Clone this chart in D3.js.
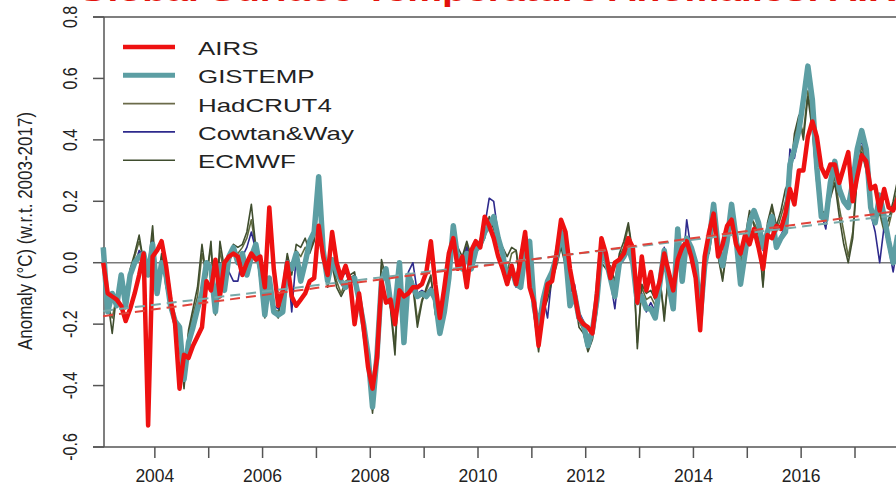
<!DOCTYPE html>
<html>
<head>
<meta charset="utf-8">
<script src="https://cdn.jsdelivr.net/npm/d3@7"></script>
<style>
  body { margin: 0; background: #fff; }
  text { font-family: "Liberation Sans", Arial, sans-serif; }
</style>
</head>
<body>
<div id="chart-area"></div>
<script>
var total_width = 896;
var total_height = 486;

// monthly anomalies, Jan 2003 onwards
var startYear = 2003;
var airs = [0.00,-0.10,-0.11,-0.12,-0.14,-0.19,-0.15,-0.10,-0.04,0.03,-0.53,0.02,
  0.04,0.07,-0.01,-0.12,-0.20,-0.41,-0.30,-0.31,-0.27,-0.24,-0.21,-0.06,
  -0.09,0.01,-0.11,0.00,0.02,0.03,0.02,-0.04,0.00,0.03,0.01,0.02,
  -0.08,0.18,-0.02,-0.14,-0.09,0.00,-0.11,-0.14,-0.12,-0.10,-0.06,-0.05,
  0.12,0.02,-0.04,0.10,0.00,-0.05,-0.01,-0.06,-0.20,-0.10,-0.21,-0.34,
  -0.41,-0.31,-0.06,-0.13,-0.12,-0.20,-0.09,-0.11,-0.10,-0.08,-0.08,-0.07,
  -0.03,0.07,-0.07,-0.18,-0.08,0.03,0.08,-0.02,0.02,-0.08,0.04,0.07,
  0.05,0.15,0.12,0.08,0.02,-0.02,-0.07,-0.01,-0.07,0.01,0.10,-0.08,
  -0.13,-0.27,-0.16,-0.07,-0.06,0.03,0.14,0.10,-0.02,-0.10,-0.18,-0.20,
  -0.21,-0.23,-0.10,0.08,0.03,-0.05,0.00,0.01,0.03,0.08,0.05,-0.13,
  0.02,-0.09,-0.03,-0.11,-0.06,0.03,-0.03,-0.09,0.01,0.05,0.07,0.02,
  -0.05,-0.22,0.02,0.10,0.16,0.02,0.06,0.12,0.14,0.06,0.03,0.09,
  0.06,0.11,0.05,-0.02,0.09,0.08,0.12,0.11,0.16,0.24,0.19,0.30,
  0.30,0.41,0.46,0.41,0.31,0.28,0.32,0.32,0.26,0.31,0.36,0.20,
  0.28,0.35,0.33,0.24,0.25,0.17,0.24,0.18,0.17,0.21];

var gistemp = [0.05,-0.16,-0.10,-0.14,-0.04,-0.14,-0.04,0.00,0.02,0.03,-0.04,0.06,
  -0.10,0.00,-0.04,-0.14,-0.19,-0.21,-0.38,-0.26,-0.21,-0.15,-0.10,0.00,
  -0.02,-0.16,-0.01,-0.09,0.02,0.05,0.00,0.03,-0.04,0.02,0.06,-0.02,
  -0.17,-0.05,-0.16,-0.17,-0.16,0.00,-0.02,0.03,-0.06,0.00,0.07,0.10,
  0.28,0.04,-0.06,0.01,-0.03,-0.06,-0.08,-0.06,-0.05,-0.12,-0.20,-0.30,
  -0.47,-0.30,-0.06,-0.02,-0.13,-0.15,0.00,-0.26,-0.04,-0.08,-0.11,-0.10,
  -0.11,-0.09,-0.12,-0.23,-0.16,-0.05,0.12,0.01,-0.02,0.03,-0.02,0.04,
  0.06,0.10,0.12,0.15,0.08,0.03,-0.06,-0.02,-0.07,-0.08,0.03,0.07,
  -0.14,-0.22,-0.12,-0.06,-0.03,0.02,0.10,0.03,-0.14,-0.10,-0.18,-0.20,
  -0.27,-0.22,-0.12,0.04,0.01,-0.05,-0.11,0.00,0.02,0.05,0.00,-0.13,
  -0.11,-0.15,-0.15,-0.18,-0.07,0.04,-0.07,-0.15,0.11,-0.06,0.08,0.05,
  0.00,-0.18,-0.01,0.07,0.19,0.05,-0.01,0.07,0.19,0.08,-0.07,0.03,
  0.13,0.17,0.13,0.05,0.10,0.15,0.05,0.08,0.10,0.32,0.37,0.43,
  0.53,0.64,0.53,0.31,0.15,0.14,0.26,0.33,0.24,0.20,0.18,0.26,
  0.37,0.43,0.37,0.18,0.13,0.22,0.15,0.07,0.00,0.09];

var hadcrut4 = [0.03,-0.14,-0.18,-0.11,-0.04,-0.12,-0.03,0.02,0.07,0.01,-0.03,0.09,
  -0.08,0.02,-0.06,-0.12,-0.19,-0.20,-0.40,-0.23,-0.17,-0.11,0.03,-0.04,
  0.05,-0.15,0.04,-0.04,0.00,0.04,0.03,0.05,0.08,0.14,0.04,-0.04,
  -0.16,-0.07,-0.15,-0.16,-0.10,0.02,-0.03,0.04,0.02,0.05,0.04,0.08,
  0.27,0.02,-0.07,0.00,-0.06,-0.10,-0.06,-0.05,-0.04,-0.13,-0.21,-0.31,
  -0.48,-0.28,-0.01,-0.04,-0.14,-0.27,-0.02,-0.22,-0.05,-0.06,-0.19,-0.12,
  -0.09,-0.05,-0.15,-0.20,-0.12,-0.03,0.09,0.03,0.01,0.06,0.00,0.05,
  0.06,0.09,0.14,0.13,0.07,0.04,-0.03,0.03,0.04,-0.07,0.05,0.03,
  -0.15,-0.27,-0.14,-0.10,-0.05,0.00,0.07,0.01,-0.08,-0.09,-0.19,-0.22,
  -0.28,-0.24,-0.15,0.02,0.00,-0.03,-0.08,0.02,0.05,0.12,0.02,-0.26,
  -0.08,-0.12,-0.11,-0.14,-0.05,-0.17,-0.04,-0.12,0.06,-0.02,0.07,0.03,
  -0.02,-0.20,0.02,0.04,0.15,0.03,-0.05,0.06,0.15,0.10,0.00,0.06,
  0.15,0.13,0.10,-0.07,0.12,0.18,0.10,0.15,0.20,0.26,0.40,0.47,
  0.42,0.56,0.45,0.27,0.16,0.15,0.22,0.28,0.18,0.10,0.02,0.10,
  0.30,0.38,0.32,0.18,0.14,0.16,0.10,0.12,0.18,0.24];

var cowtan = [0.04,-0.13,-0.12,-0.12,-0.05,-0.13,-0.05,-0.01,0.04,0.02,-0.03,0.07,
  -0.09,0.01,-0.05,-0.13,-0.18,-0.22,-0.36,-0.25,-0.20,-0.14,-0.08,-0.02,
  -0.01,-0.14,0.00,-0.06,-0.03,-0.06,-0.06,0.02,0.05,0.10,0.04,-0.03,
  -0.15,-0.06,-0.14,-0.15,-0.12,0.01,-0.16,0.02,-0.05,0.01,0.05,0.09,
  0.26,0.03,-0.05,0.00,-0.02,-0.05,-0.03,-0.07,-0.04,-0.12,-0.19,-0.29,
  -0.45,-0.29,-0.04,-0.03,-0.12,-0.17,-0.01,-0.24,-0.03,0.00,-0.10,-0.09,
  -0.10,-0.08,-0.11,-0.21,-0.15,-0.04,0.10,0.02,-0.01,0.05,-0.01,0.03,
  0.07,0.12,0.21,0.20,0.09,0.03,-0.05,-0.01,-0.08,-0.06,0.10,0.05,
  -0.13,-0.22,-0.11,-0.18,-0.04,0.01,0.09,0.02,-0.10,-0.07,-0.16,-0.19,
  -0.25,-0.20,-0.14,0.03,0.00,-0.06,-0.15,-0.01,0.01,0.06,0.01,-0.12,
  -0.10,-0.16,-0.13,-0.16,-0.06,0.05,-0.06,-0.13,0.09,-0.04,0.14,0.04,
  0.01,-0.16,0.00,0.06,0.18,0.06,0.00,0.08,0.17,0.09,-0.05,0.04,
  0.12,0.16,0.12,0.04,0.11,0.14,0.06,0.09,0.12,0.37,0.34,0.42,
  0.52,0.60,0.50,0.28,0.16,0.11,0.24,0.30,0.22,0.20,0.20,0.24,
  0.34,0.40,0.34,0.16,0.10,0.00,0.12,0.05,-0.03,0.06];

var ecmwf = [0.05,-0.12,-0.23,-0.10,-0.06,-0.15,-0.02,0.03,0.09,0.00,-0.02,0.12,
  -0.09,0.03,-0.08,-0.13,-0.20,-0.22,-0.41,-0.22,-0.15,-0.08,0.06,-0.05,
  0.07,-0.17,0.07,-0.02,0.01,0.06,0.05,0.06,0.10,0.19,0.05,-0.06,
  -0.18,-0.08,-0.16,-0.18,-0.08,0.03,-0.04,0.06,0.05,0.08,0.03,0.07,
  0.28,0.01,-0.08,-0.01,-0.08,-0.11,-0.08,-0.04,-0.03,-0.14,-0.22,-0.32,
  -0.49,-0.27,0.01,-0.05,-0.15,-0.30,-0.01,-0.20,-0.06,-0.08,-0.21,-0.13,
  -0.08,-0.04,-0.17,-0.18,-0.10,-0.01,0.08,0.05,0.02,0.07,0.02,0.06,
  0.05,0.08,0.15,0.11,0.06,0.05,0.02,0.05,0.04,-0.08,0.04,0.01,
  -0.17,-0.29,-0.16,-0.12,-0.06,-0.01,0.05,-0.01,-0.07,-0.11,-0.21,-0.23,
  -0.29,-0.25,-0.16,0.00,-0.02,-0.01,-0.06,0.03,0.07,0.13,0.03,-0.28,
  -0.07,-0.10,-0.09,-0.12,-0.04,-0.19,-0.03,-0.10,0.04,0.00,0.06,0.02,
  -0.04,-0.22,0.03,0.03,0.13,0.02,-0.06,0.05,0.14,0.11,0.02,0.08,
  0.17,0.12,0.09,-0.08,0.13,0.19,0.12,0.17,0.24,0.27,0.42,0.48,
  0.40,0.54,0.43,0.26,0.17,0.16,0.21,0.26,0.15,0.06,0.00,0.08,
  0.28,0.36,0.30,0.19,0.15,0.18,0.11,0.14,0.20,0.27];

// linear trends (end points)
var trendYears = [2003.04, 2017.96];
var airsTrend = [-0.174, 0.172];
var gistempTrend = [-0.157, 0.159];

var yTicks = [-0.6, -0.4, -0.2, 0.0, 0.2, 0.4, 0.6, 0.8];
var xTicks = [2004, 2005, 2006, 2007, 2008, 2009, 2010, 2011, 2012, 2013, 2014, 2015, 2016, 2017];
var xLabels = [2004, 2006, 2008, 2010, 2012, 2014, 2016];

var svg = d3.select('#chart-area').append('svg')
            .attr("width", total_width)
            .attr("height", total_height);

var x = d3.scaleLinear()
          .domain([2003, 2017])
          .range([101, 855]);

var y = d3.scaleLinear()
          .domain([-0.6, 0.8])
          .range([447, 17]);

var axisColor = "#555";

// title (mostly cut off at the top of the picture)
svg.append("text")
   .attr("transform", "translate(77,1) scale(1.4,1)")
   .style("font-size", "28px")
   .style("font-weight", "bold")
   .style("fill", "#e3120b")
   .text("Global Surface Temperature Anomalies: AIRS vs. Other Datasets");

// zero line
svg.append("line")
   .attr("x1", x(2003) + 3).attr("x2", total_width)
   .attr("y1", y(0)).attr("y2", y(0))
   .style("stroke", "#7a7a7a")
   .style("stroke-width", 1.5);

// axes, drawn by hand to look like base R
var yAxis = svg.append("g");
yAxis.append("line")
     .attr("x1", 104).attr("x2", 104)
     .attr("y1", y(0.8)).attr("y2", y(-0.6))
     .style("stroke", axisColor).style("stroke-width", 1.5);
yAxis.selectAll(".ytick").data(yTicks).enter().append("line")
     .attr("x1", 93).attr("x2", 104)
     .attr("y1", d => y(d)).attr("y2", d => y(d))
     .style("stroke", axisColor).style("stroke-width", 1.5);
yAxis.selectAll(".ylab").data(yTicks).enter().append("text")
     .attr("transform", d => "translate(77," + y(d) + ") rotate(-90) scale(1,1.3)")
     .style("text-anchor", "middle")
     .style("font-size", "16px")
     .style("fill", "#222")
     .text(d => d.toFixed(1));

svg.append("text")
   .attr("transform", "translate(32,231) rotate(-90) scale(1,1.2)")
   .style("text-anchor", "middle")
   .style("font-size", "17px")
   .style("fill", "#222")
   .text("Anomaly (\u00B0C) (w.r.t. 2003-2017)");

// top and bottom lines of the box
svg.append("line")
   .attr("x1", 93).attr("x2", total_width)
   .attr("y1", y(0.8)).attr("y2", y(0.8))
   .style("stroke", axisColor).style("stroke-width", 1.5);
svg.append("line")
   .attr("x1", 93).attr("x2", total_width)
   .attr("y1", y(-0.6)).attr("y2", y(-0.6))
   .style("stroke", axisColor).style("stroke-width", 1.5);

svg.selectAll(".xtick").data(xTicks).enter().append("line")
   .attr("x1", d => x(d)).attr("x2", d => x(d))
   .attr("y1", y(-0.6)).attr("y2", y(-0.6) + 11)
   .style("stroke", axisColor).style("stroke-width", 1.5);
svg.selectAll(".xlab").data(xLabels).enter().append("text")
   .attr("x", d => x(d))
   .attr("y", 482)
   .style("text-anchor", "middle")
   .style("font-size", "17.5px")
   .style("fill", "#222")
   .text(d => d);

// series
var line = d3.line()
             .x((d, i) => x(startYear + (i + 0.5) / 12))
             .y(d => y(d))
             .curve(d3.curveLinear);

var series = [
  {name: "HadCRUT4", values: hadcrut4, color: "#5f6a3e", width: 1.6},
  {name: "Cowtan&Way", values: cowtan, color: "#2e2a8c", width: 1.6},
  {name: "ECMWF", values: ecmwf, color: "#3f4d2e", width: 1.6},
  {name: "GISTEMP", values: gistemp, color: "#5c9ea3", width: 5.5},
  {name: "AIRS", values: airs, color: "#ee1111", width: 4.5}
];

series.forEach(function(s) {
  svg.append("path")
     .datum(s.values)
     .attr("d", line)
     .style("fill", "none")
     .style("stroke", s.color)
     .style("stroke-width", s.width)
     .style("stroke-linejoin", "round");
});

// dashed trend lines
var trends = [
  {values: gistempTrend, color: "#78a9a9"},
  {values: airsTrend, color: "#e0433a"}
];
trends.forEach(function(t) {
  svg.append("line")
     .attr("x1", x(trendYears[0])).attr("y1", y(t.values[0]))
     .attr("x2", x(trendYears[1])).attr("y2", y(t.values[1]))
     .style("stroke", t.color)
     .style("stroke-width", 2)
     .style("stroke-dasharray", "10,6");
});

// legend
var legendItems = [
  {name: "AIRS", color: "#ee1111", width: 4.5},
  {name: "GISTEMP", color: "#5c9ea3", width: 5},
  {name: "HadCRUT4", color: "#6b6b4a", width: 1.6},
  {name: "Cowtan&Way", color: "#2e2a8c", width: 1.6},
  {name: "ECMWF", color: "#3f4d2e", width: 1.6}
];

var legend = svg.append("g");
legendItems.forEach(function(d, i) {
  var ly = 47 + i * 28.3;
  legend.append("line")
        .attr("x1", 123).attr("x2", 175)
        .attr("y1", ly).attr("y2", ly)
        .style("stroke", d.color)
        .style("stroke-width", d.width);
  legend.append("text")
        .attr("transform", "translate(198," + (ly + 8) + ") scale(1.4,1)")
        .style("font-size", "18.5px")
        .style("fill", "#222")
        .text(d.name);
});
</script>
</body>
</html>
